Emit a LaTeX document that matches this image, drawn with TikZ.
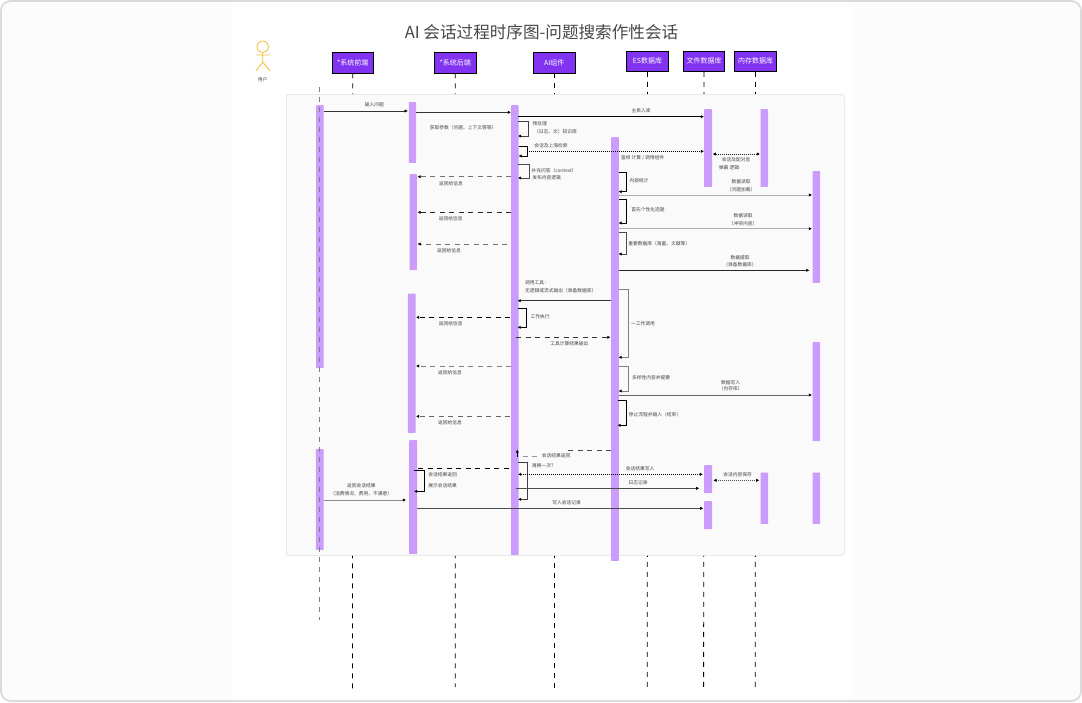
\documentclass[tikz,border=0pt]{standalone}
\usepackage{fontspec}
\setmainfont{Noto Sans CJK SC}
\usetikzlibrary{arrows.meta}
\definecolor{barc}{HTML}{CB9CFC}
\definecolor{headc}{HTML}{8133F1}
\definecolor{txt}{HTML}{444444}
\definecolor{actorc}{HTML}{F5BB33}
\tikzset{
  x=1pt,y=-1pt,
  head/.style={draw=black,line width=.8pt,fill=headc,text=white,font=\fontsize{7}{8}\selectfont,inner sep=0pt,minimum height=20.5pt,minimum width=41.5pt},
  bar/.style={draw=none,fill=barc,rounded corners=.6pt},
  lbl/.style={text=txt,font=\fontsize{4.75}{6}\selectfont,inner sep=0pt},
  life/.style={line width=.8pt,black,dash pattern=on 5pt off 5pt},
  msg/.style={line width=.7pt,-{Latex[length=3.2pt,width=3.4pt,black]}},
  dmsg/.style={msg,dash pattern=on 5pt off 4.5pt},
  dot/.style={line width=.7pt,{Latex[length=3.2pt,width=3.4pt,black]}-{Latex[length=3.2pt,width=3.4pt,black]},dash pattern=on 1pt off 1pt},
  selfm/.style={line width=.7pt,-{Latex[length=3.2pt,width=3.4pt,black]}},
}
\newcommand{\barbox}[5]{\node[bar,anchor=north west,minimum width=#4pt-#2pt,minimum height=#5pt-#3pt,inner sep=0pt] (#1) at (#2,#3) {};}
\newcommand{\lab}[4]{\node[lbl] (#1) at (#2,#3) {#4};}
\newcommand{\hmsg}[6]{\coordinate (#1s) at (#3,#5);\coordinate (#1e) at (#4,#5);\draw[#2,#6] (#1s) -- (#1e);}
\newcommand{\selfmsg}[7]{\coordinate (#1a) at (#3,#5);\coordinate (#1b) at (#4,#5);\coordinate (#1c) at (#4,#6);\coordinate (#1d) at (#3,#6);\draw[selfm,#2,#7] (#1a) -- (#1b) -- (#1c) -- (#1d);}
\begin{document}
\begin{tikzpicture}
\useasboundingbox (0,0) rectangle (1082,702);
% page
\fill[white] (0,0) rectangle (1082,702);
\draw[draw=black!14,line width=1.8pt,rounded corners=10pt,fill=black!1.2] (.9,.9) rectangle (1081.1,701.1);
\fill[white] (232,6) rectangle (852,700);
% title
\node[text=black!72,font=\fontsize{16.6}{19}\selectfont,inner sep=0pt] (title) at (541.5,32) {AI 会话过程时序图-问题搜索作性会话};
% actor
\node[draw=actorc,line width=.8pt,circle,minimum size=11.4pt,inner sep=0pt,fill=white] (acthead) at (262.7,46.7) {};
\coordinate (hip) at (262.7,62);\coordinate (armL) at (256,55);\coordinate (armR) at (270,55);
\coordinate (legL) at (256,71);\coordinate (legR) at (270,71);
\draw[actorc,line width=.8pt] (acthead.south) -- (hip) (armL) -- (armR) (hip) -- (legL) (hip) -- (legR);
\lab{actlab}{262.5}{80}{用户}
% heads
\node[head] (h1) at (352.8,62.8) {*系统前端};
\node[head] (h2) at (455.2,62.8) {*系统后端};
\node[head] (h3) at (554.2,62.8) {AI组件};
\node[head] (h4) at (647.5,61.2) {ES数据库};
\node[head] (h5) at (704,61.2) {文件数据库};
\node[head] (h6) at (755.5,61.2) {内存数据库};
% lifelines
\foreach \n/\x/\e in {1/352.5/690,2/455.3/687,3/554.2/690,4/647.3/690,5/703.6/690,6/755.3/690}{
  \coordinate (bot\n) at (\x,\e);
  \draw[life] (h\n.south) -- (bot\n);
}
% panel
\node[draw=black!12,line width=.7pt,fill=black!2,rounded corners=3pt,anchor=north west,minimum width=558pt,minimum height=461pt,inner sep=0pt] (panel) at (286,94) {};
\coordinate (act0) at (319.5,87);\coordinate (act1) at (319.5,620);
% bars
\barbox{a1}{316}{105}{323.5}{368}
\barbox{a2}{315.7}{449}{323.3}{549.7}
\barbox{b1}{408.7}{102}{416}{162.7}
\barbox{b2}{409.3}{174}{416.7}{270}
\barbox{b3}{407.7}{293.3}{415.3}{432.7}
\barbox{b4}{409}{440}{417}{553.7}
\barbox{c1}{511}{105}{518.3}{555}
\barbox{d1}{611}{137}{618.7}{560.7}
\barbox{e1}{704}{109}{712}{186.7}
\barbox{e2}{704}{465}{712}{493}
\barbox{e3}{704}{501}{712}{529}
\barbox{f1}{760.3}{109}{768}{186.7}
\barbox{f2}{760.3}{472.3}{768}{523.7}
\barbox{g1}{812.3}{171}{820}{282.7}
\barbox{g2}{812.3}{342}{820}{441}
\barbox{g3}{812.3}{472.3}{820}{523.7}
\draw[black!50,line width=1pt,dash pattern=on 5pt off 5pt] (act0) -- (act1);
% messages
\hmsg{m1}{msg}{323.5}{407.8}{111}{black!80}
\hmsg{m2}{msg}{416}{511}{112.3}{black!80}
\hmsg{m3}{msg}{518}{704}{116.7}{black}
\selfmsg{s4}{}{518}{528.7}{121.3}{136}{black!75}
\selfmsg{s5}{}{518.5}{527.3}{146}{156}{black}
\coordinate (d5s) at (527.3,151.3);\coordinate (d5e) at (704,151.3);
\draw[msg,dash pattern=on 1pt off 1pt] (d5s) -- (d5e);
\hmsg{m6}{dot}{712.7}{760}{154}{black!85}
\selfmsg{s7}{}{518}{529}{164.3}{178}{black!70}
\hmsg{m8}{dmsg}{511}{417.5}{176.7}{black!55}
\hmsg{m9}{dmsg}{511}{417.5}{212.3}{black!85}
\hmsg{m10}{dmsg}{507}{417.5}{244}{black!55}
\selfmsg{s11}{}{618.5}{626.7}{172.3}{191.7}{black}
\hmsg{m12}{msg}{618.7}{812}{195}{black!32}
\selfmsg{s13}{}{618.5}{626.7}{199.3}{223}{black}
\hmsg{m14}{msg}{618.7}{812}{228.7}{black!32}
\selfmsg{s15}{}{618.5}{626.7}{232.3}{254}{black!70}
\hmsg{m16}{msg}{618.7}{809.5}{270.3}{black!85}
\hmsg{m17}{msg}{611}{517.5}{300.7}{black!80}
\selfmsg{s18}{}{618.5}{628}{289.3}{357.3}{black!50}
\selfmsg{s19}{}{517.5}{526.7}{308.3}{327.3}{black}
\hmsg{m20}{dmsg}{510}{416}{317.3}{black}
\hmsg{m21}{dmsg}{516}{610.5}{337.3}{black!80}
\hmsg{m22}{dmsg}{511}{416}{366}{black!50}
\hmsg{m23}{dmsg}{510}{416}{416.3}{black!60}
\selfmsg{s24}{}{618.5}{628}{366.3}{391}{black!50}
\hmsg{m25}{msg}{618.7}{812}{395}{black!60}
\selfmsg{s26}{}{617.5}{626.7}{400.3}{425.3}{black}
\coordinate (r1s) at (611,450.3);\coordinate (r1e) at (565,450.3);
\draw[black!70,line width=.7pt,dash pattern=on 5pt off 4.5pt] (r1s) -- (r1e);
\coordinate (r2s) at (537,456);\coordinate (r2e) at (523,456);
\draw[black!40,line width=.7pt,dash pattern=on 5pt off 4.5pt] (r2s) -- (r2e);
\coordinate (r3s) at (517.3,456.7);\coordinate (r3e) at (517.3,449.5);
\draw[msg,black] (r3s) -- (r3e);
\coordinate (r4s) at (418,468.3);\coordinate (r4e) at (511.7,468.3);
\draw[black,line width=.7pt,dash pattern=on 5pt off 4.5pt] (r4s) -- (r4e);
\selfmsg{s28}{}{414}{424.7}{470.3}{491.3}{black}
\selfmsg{s29}{}{518}{527.3}{462.3}{499.3}{black!75}
\hmsg{m30}{dot}{518}{703}{474.3}{black}
\hmsg{m31}{msg}{516}{699.3}{488.3}{black!70}
\hmsg{m32}{dot}{713.3}{759.3}{480.3}{black!70}
\hmsg{m33}{msg}{417}{703.3}{508.3}{black!70}
\hmsg{m34}{msg,line width=1pt}{324}{406}{500}{black!45}
% labels
\lab{l1}{374.3}{105}{输入问题}
\lab{l2}{463}{128}{获取参数（问题、上下文等等）}
\lab{l3}{641}{110.7}{主表入库}
\node[lbl,anchor=west] (l4) at (532.5,124) {预处理};
\lab{l4b}{555.5}{131.7}{（日志、文）知识库}
\lab{l5}{551}{145.3}{会话及上海检索}
\lab{l5b}{642.7}{157.7}{鉴权 计算 / 调用组件}
\lab{l6}{736}{160}{会话及配对息}
\lab{l6b}{729}{167.7}{弹幕 逻辑}
\lab{l7}{554}{170.7}{补充问答（context）}
\lab{l7b}{546.7}{178}{发布内容逻辑}
\lab{l8}{451}{183.3}{返回给信息}
\lab{l9}{450.7}{218.7}{返回给信息}
\lab{l10}{449}{250.3}{返回给信息}
\lab{l11}{639}{180.7}{内部统计}
\lab{l12}{741}{181.7}{数据读取}
\lab{l12b}{741}{189.3}{（问题加载）}
\lab{l13}{648}{209.3}{首先个性化选题}
\lab{l14}{743}{215.7}{数据读取}
\lab{l14b}{743}{223.3}{（冲突内容）}
\lab{l15}{659.3}{243.7}{重要数据库（海量、文献等）}
\lab{l16}{740}{257.7}{数据提取}
\lab{l16b}{740}{264.7}{（准备数据库）}
\node[lbl,anchor=west] (l17) at (525,283) {调用工具：};
\node[lbl,anchor=west] (l17b) at (525,291) {无逻辑或流式输出（准备数据库）};
\node[lbl,anchor=west] (l18) at (631,324) {一工作调用};
\lab{l19}{540}{316.7}{工作执行}
\lab{l20}{450.7}{323.3}{返回给信息}
\lab{l21}{569.3}{344}{工具计算结果输出}
\lab{l22}{450}{372.3}{返回给信息}
\lab{l23}{450}{423}{返回给信息}
\lab{l24}{651}{377.3}{多样性内容并提要}
\lab{l25}{730.7}{382.3}{数据写入}
\lab{l25b}{730.7}{389}{（内存库）}
\lab{l26}{655}{414.3}{停止流程并输入（结束）}
\lab{l27}{556}{455.7}{会话结果返回}
\lab{l28}{442.7}{474.7}{会话结果返回}
\lab{l28b}{442.7}{485.7}{展示会话结果}
\lab{l29}{544}{466}{再换一次？}
\lab{l30}{640}{468.3}{会话结果写入}
\lab{l31}{638}{482.3}{日志记录}
\lab{l32}{737.7}{474.7}{会话内容保存}
\lab{l33}{566.7}{502.3}{写入会话记录}
\lab{l34}{361.3}{486}{返回会话结果}
\lab{l34b}{361.3}{494}{（消费情况、费用、不满意）}
\end{tikzpicture}
\end{document}
